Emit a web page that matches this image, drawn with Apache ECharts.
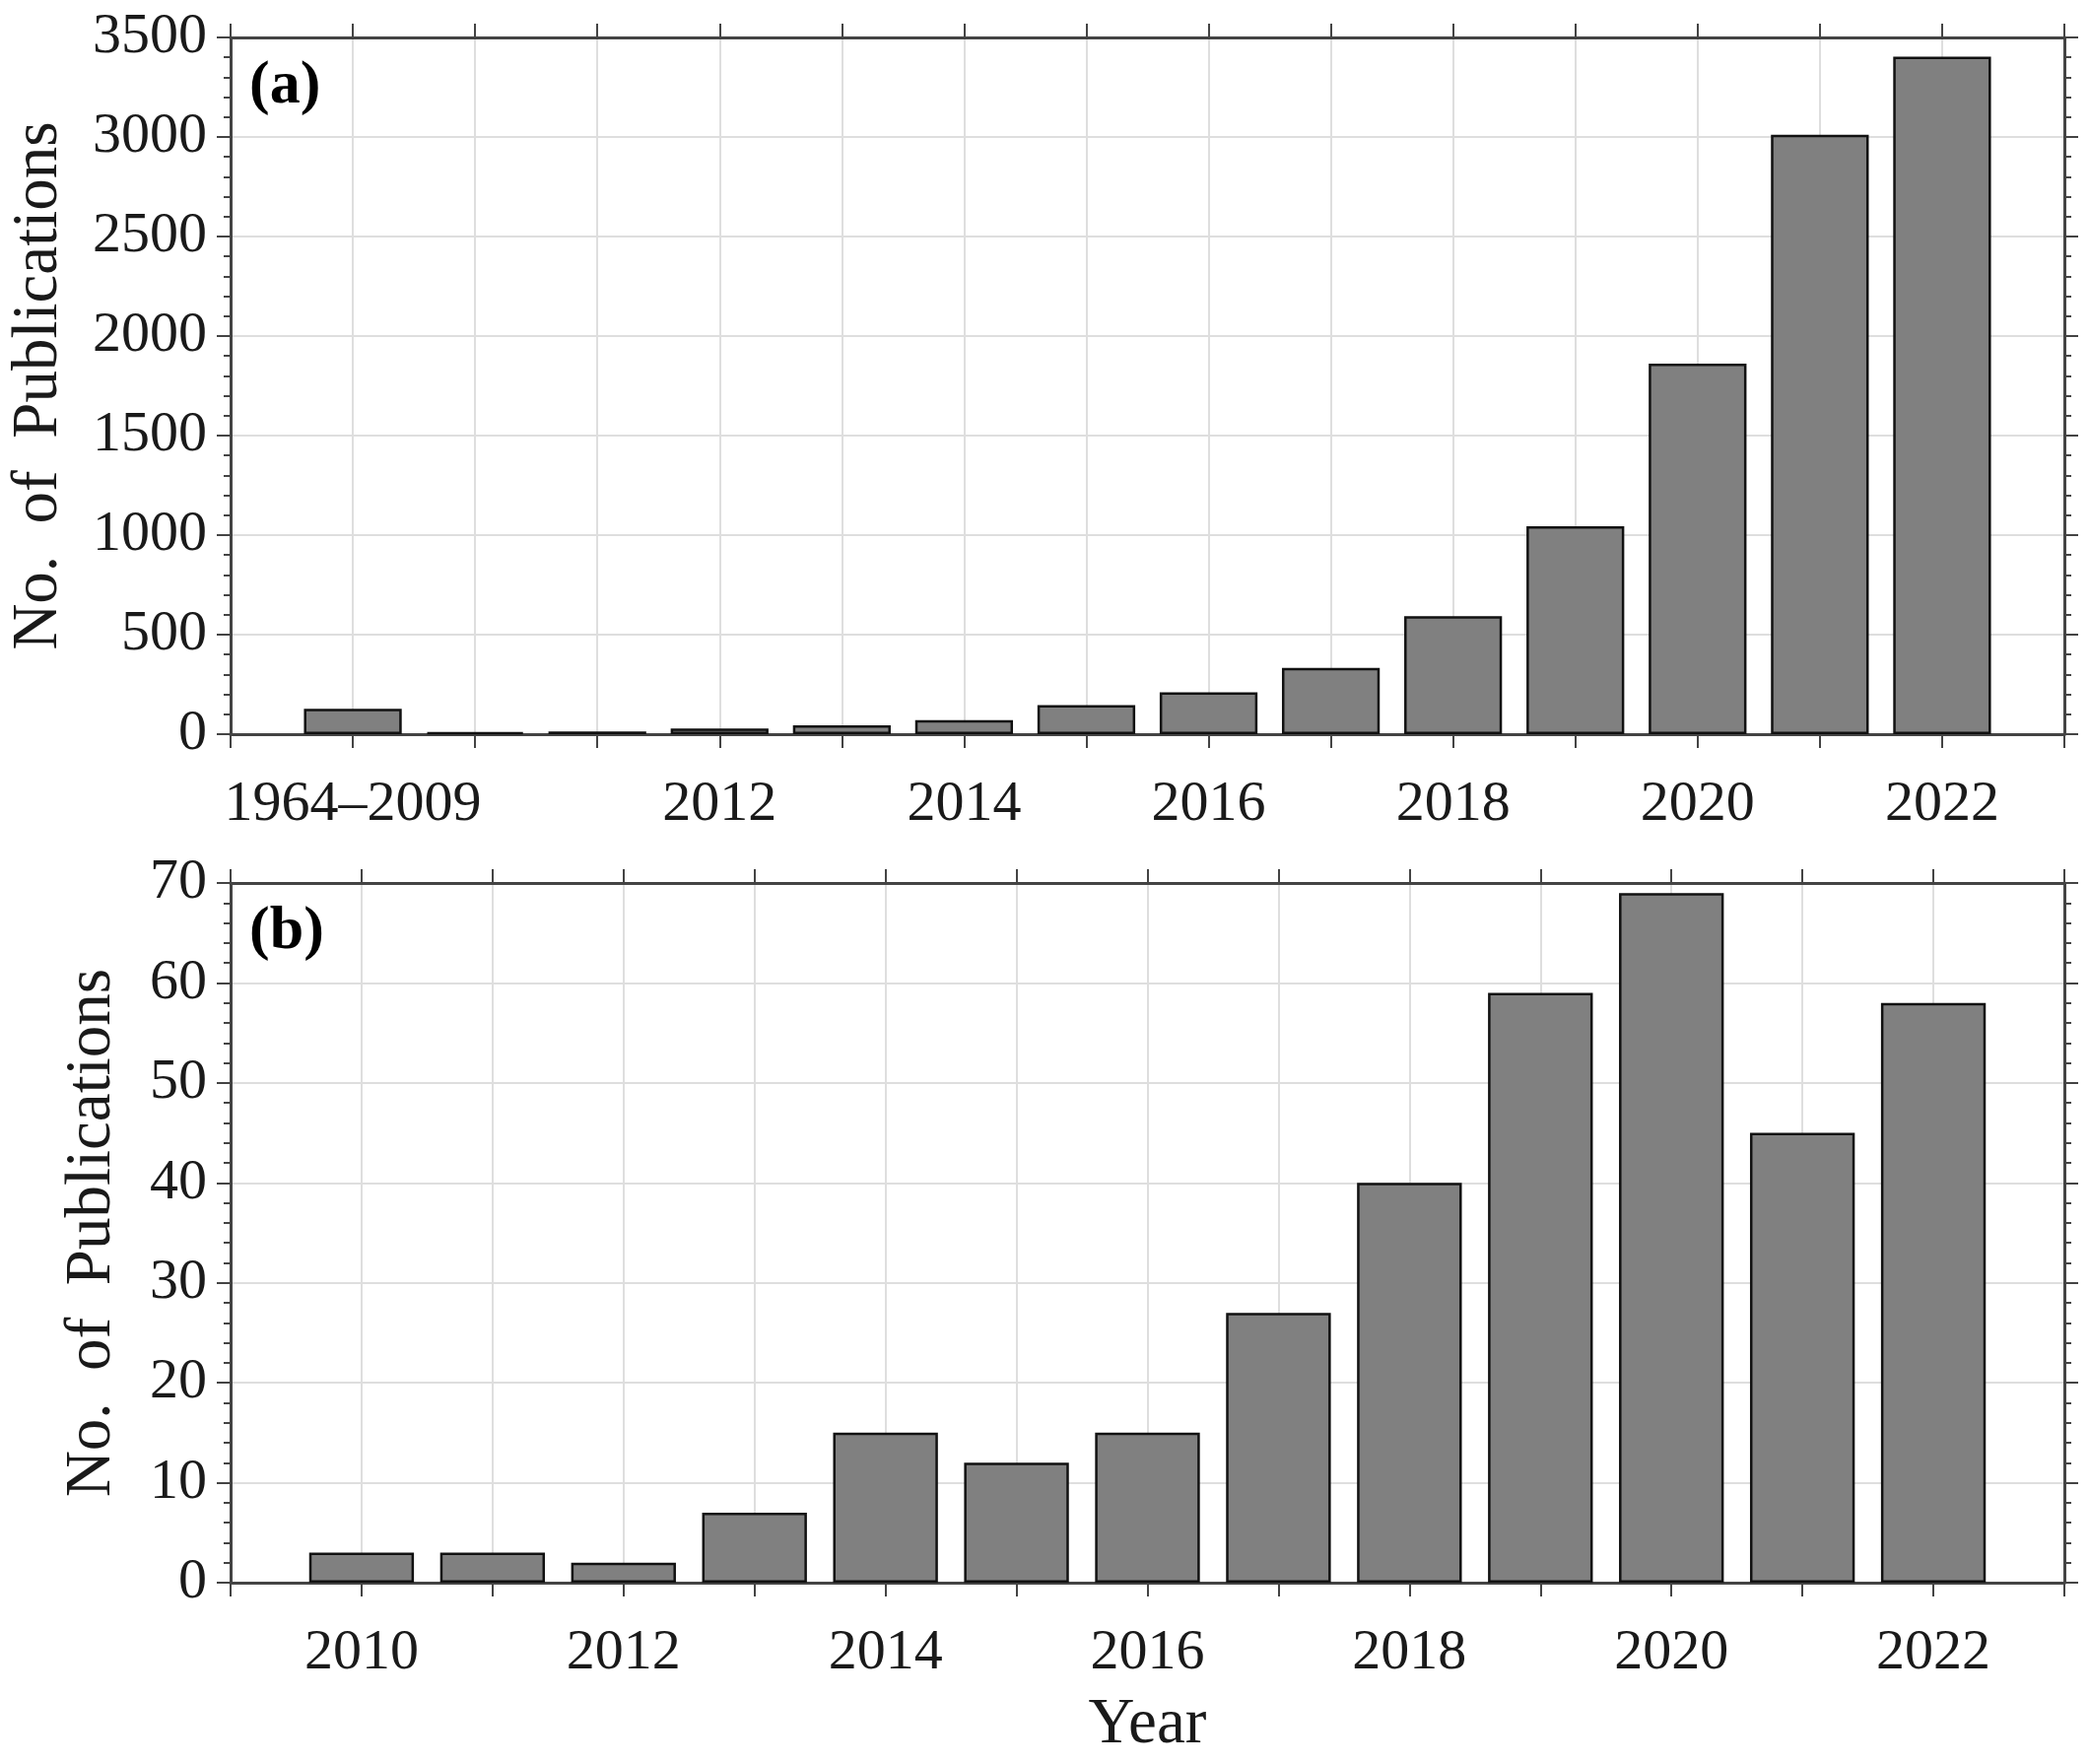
<!DOCTYPE html>
<html>
<head>
<meta charset="utf-8">
<script src="https://cdn.jsdelivr.net/npm/echarts@6/dist/echarts.min.js"></script>
<style>
html,body{margin:0;padding:0;background:#fff;}
#c{width:2120px;height:1790px;}
</style>
</head>
<body>
<div id="c"></div>
<script>
// ---- data (a) ----
const topYears = [2009, 2010, 2011, 2012, 2013, 2014, 2015, 2016, 2017, 2018, 2019, 2020, 2021, 2022];
const topLabels = ['1964–2009', '2010', '2011', '2012', '2013', '2014', '2015', '2016', '2017', '2018', '2019', '2020', '2021', '2022'];
const topCounts = [128, 10, 14, 28, 45, 71, 146, 210, 333, 593, 1045, 1862, 3011, 3404];
const topShownLabels = ['1964–2009', '2012', '2014', '2016', '2018', '2020', '2022'];
const topYMax = 3500, topYStep = 500;

// ---- data (b) ----
const botYears = [2010, 2011, 2012, 2013, 2014, 2015, 2016, 2017, 2018, 2019, 2020, 2021, 2022];
const botCounts = [3, 3, 2, 7, 15, 12, 15, 27, 40, 59, 69, 45, 58];
const botShownLabels = ['2010', '2012', '2014', '2016', '2018', '2020', '2022'];
const botYMax = 70, botYStep = 10;

const yTitle = 'No.  of  Publications';
const xTitle = 'Year';

const FONT = "'Liberation Serif', 'Times New Roman', serif";
const TICK_FS = 58, TITLE_FS = 65;
const AX = '#444444';

function labelFor(v, years, labels, shown) {
  const i = years.indexOf(v);
  if (i < 0) return '';
  const s = labels[i];
  return shown.indexOf(s) >= 0 ? s : '';
}

const chart = echarts.init(document.getElementById('c'), null, {renderer: 'canvas'});

function xAx(gridIndex, min, max, pos, formatter, name) {
  return {
    type: 'value', gridIndex, min, max, interval: 1, position: pos,
    axisLine: {show: true, onZero: false, lineStyle: {color: AX, width: 3}},
    axisTick: {show: true, inside: false, length: 14, lineStyle: {color: AX, width: 2}},
    minorTick: {show: false},
    splitLine: {show: pos === 'bottom', lineStyle: {color: '#dedede', width: 2}},
    axisLabel: formatter ? {show: true, margin: 43, fontFamily: FONT, fontSize: TICK_FS, color: '#1a1a1a', formatter, hideOverlap: false} : {show: false},
    name: name || '', nameLocation: 'middle', nameGap: 112,
    nameTextStyle: {fontFamily: FONT, fontSize: TITLE_FS, color: '#1a1a1a'}
  };
}
function yAx(gridIndex, max, step, pos, showLabel, nameGap) {
  return {
    type: 'value', gridIndex, min: 0, max, interval: step, position: pos,
    axisLine: {show: true, onZero: false, lineStyle: {color: AX, width: 3}},
    axisTick: {show: true, inside: false, length: 14, lineStyle: {color: AX, width: 2}},
    minorTick: {show: true, splitNumber: 5, length: 7, lineStyle: {color: AX, width: 2}},
    splitLine: {show: pos === 'left', lineStyle: {color: '#dedede', width: 2}},
    axisLabel: showLabel ? {show: true, margin: 24, fontFamily: FONT, fontSize: TICK_FS, color: '#1a1a1a', formatter: v => String(v)} : {show: false},
    name: showLabel ? yTitle : '', nameLocation: 'middle', nameGap: nameGap || 0, nameRotate: 90,
    nameTextStyle: {fontFamily: FONT, fontSize: TITLE_FS, color: '#1a1a1a'}
  };
}

const option = {
  backgroundColor: '#ffffff',
  animation: false,
  title: [
    {text: '(a)', left: 248, top: 52, textStyle: {fontFamily: FONT, fontSize: 62, fontWeight: 'bold', color: '#000'}},
    {text: '(b)', left: 248, top: 910, textStyle: {fontFamily: FONT, fontSize: 62, fontWeight: 'bold', color: '#000'}}
  ],
  grid: [
    {left: 234, right: 25, top: 38, height: 707, containLabel: false, outerBoundsMode: 'none'},
    {left: 234, right: 25, top: 896, height: 710, containLabel: false, outerBoundsMode: 'none'}
  ],
  xAxis: [
    xAx(0, 2008, 2023, 'bottom', v => labelFor(v, topYears, topLabels, topShownLabels)),
    xAx(0, 2008, 2023, 'top', null),
    xAx(1, 2009, 2023, 'bottom', v => labelFor(v, botYears, botYears.map(String), botShownLabels), xTitle),
    xAx(1, 2009, 2023, 'top', null)
  ],
  yAxis: [
    yAx(0, topYMax, topYStep, 'left', true, 162),
    yAx(0, topYMax, topYStep, 'right', false),
    yAx(1, botYMax, botYStep, 'left', true, 108),
    yAx(1, botYMax, botYStep, 'right', false)
  ],
  series: [
    {
      type: 'bar', xAxisIndex: 0, yAxisIndex: 0, barWidth: '80%',
      data: topYears.map((y, i) => [y, topCounts[i]]),
      itemStyle: {color: '#808080', borderColor: '#111', borderWidth: 2.5}
    },
    {
      type: 'bar', xAxisIndex: 2, yAxisIndex: 2, barWidth: '80%',
      data: botYears.map((y, i) => [y, botCounts[i]]),
      itemStyle: {color: '#808080', borderColor: '#111', borderWidth: 2.5}
    }
  ]
};
chart.setOption(option);
</script>
</body>
</html>
